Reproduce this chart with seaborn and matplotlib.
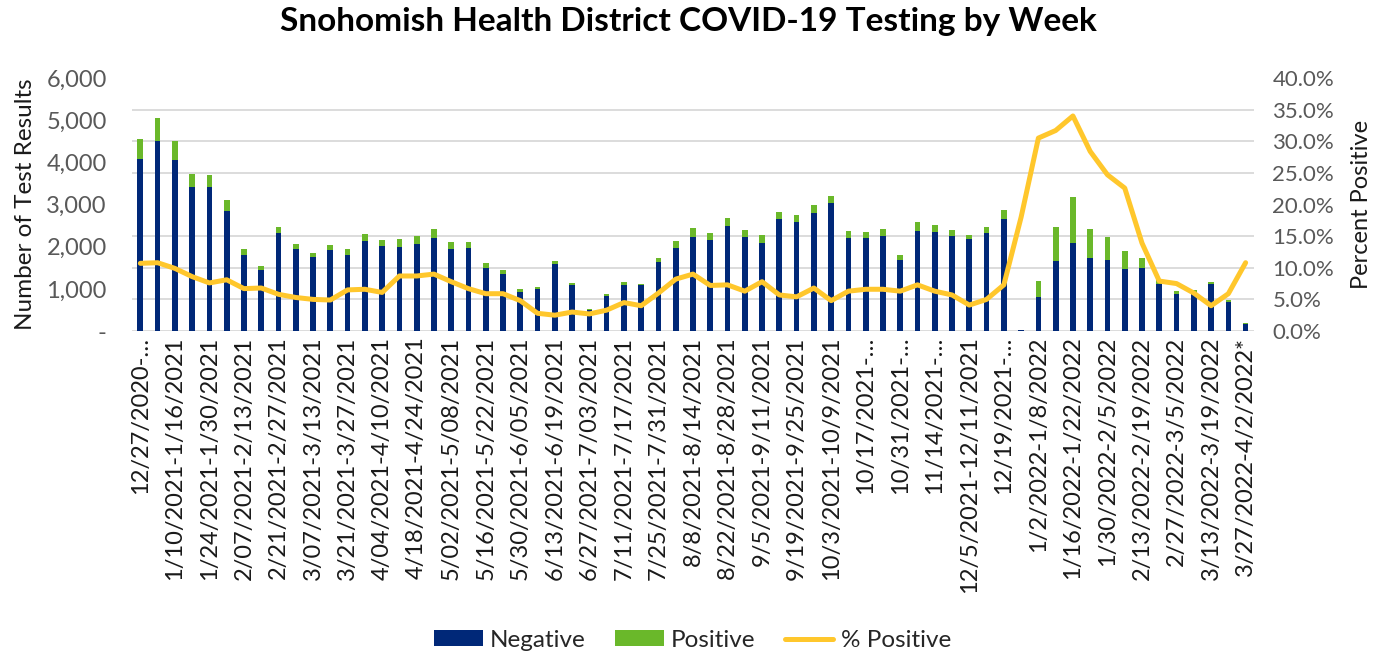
import numpy as np
import pandas as pd
import matplotlib
matplotlib.use("Agg")
import matplotlib.pyplot as plt
import seaborn as sns
from matplotlib.patches import Patch
from matplotlib.lines import Line2D
from matplotlib.ticker import FuncFormatter

# ---------------- data ----------------
weeks = [
    "12/27/2020-1/2/2021", "1/3/2021-1/9/2021", "1/10/2021-1/16/2021", "1/17/2021-1/23/2021",
    "1/24/2021-1/30/2021", "1/31/2021-2/06/2021", "2/07/2021-2/13/2021", "2/14/2021-2/20/2021",
    "2/21/2021-2/27/2021", "2/28/2021-3/06/2021", "3/07/2021-3/13/2021", "3/14/2021-3/20/2021",
    "3/21/2021-3/27/2021", "3/28/2021-4/03/2021", "4/04/2021-4/10/2021", "4/11/2021-4/17/2021",
    "4/18/2021-4/24/2021", "4/25/2021-5/01/2021", "5/02/2021-5/08/2021", "5/09/2021-5/15/2021",
    "5/16/2021-5/22/2021", "5/23/2021-5/29/2021", "5/30/2021-6/05/2021", "6/06/2021-6/12/2021",
    "6/13/2021-6/19/2021", "6/20/2021-6/26/2021", "6/27/2021-7/03/2021", "7/04/2021-7/10/2021",
    "7/11/2021-7/17/2021", "7/18/2021-7/24/2021", "7/25/2021-7/31/2021", "8/1/2021-8/7/2021",
    "8/8/2021-8/14/2021", "8/15/2021-8/21/2021", "8/22/2021-8/28/2021", "8/29/2021-9/4/2021",
    "9/5/2021-9/11/2021", "9/12/2021-9/18/2021", "9/19/2021-9/25/2021", "9/26/2021-10/2/2021",
    "10/3/2021-10/9/2021", "10/10/2021-10/16/2021", "10/17/2021-10/23/2021", "10/24/2021-10/30/2021",
    "10/31/2021-11/6/2021", "11/7/2021-11/13/2021", "11/14/2021-11/20/2021", "11/21/2021-12/4/2021",
    "12/5/2021-12/11/2021", "12/12/2021-12/18/2021", "12/19/2021-12/25/2021", "12/26/2021-1/1/2022",
    "1/2/2022-1/8/2022", "1/9/2022-1/15/2022", "1/16/2022-1/22/2022", "1/23/2022-1/29/2022",
    "1/30/2022-2/5/2022", "2/6/2022-2/12/2022", "2/13/2022-2/19/2022", "2/20/2022-2/26/2022",
    "2/27/2022-3/5/2022", "3/6/2022-3/12/2022", "3/13/2022-3/19/2022", "3/20/2022-3/26/2022",
    "3/27/2022-4/2/2022*",
]

# labels displayed on the axis (every other week, as truncated in the original)
shown_labels = [
    "12/27/2020-…", "1/10/2021-1/16/2021", "1/24/2021-1/30/2021", "2/07/2021-2/13/2021",
    "2/21/2021-2/27/2021", "3/07/2021-3/13/2021", "3/21/2021-3/27/2021", "4/04/2021-4/10/2021",
    "4/18/2021-4/24/2021", "5/02/2021-5/08/2021", "5/16/2021-5/22/2021", "5/30/2021-6/05/2021",
    "6/13/2021-6/19/2021", "6/27/2021-7/03/2021", "7/11/2021-7/17/2021", "7/25/2021-7/31/2021",
    "8/8/2021-8/14/2021", "8/22/2021-8/28/2021", "9/5/2021-9/11/2021", "9/19/2021-9/25/2021",
    "10/3/2021-10/9/2021", "10/17/2021-…", "10/31/2021-…", "11/14/2021-…",
    "12/5/2021-12/11/2021", "12/19/2021-…", "1/2/2022-1/8/2022", "1/16/2022-1/22/2022",
    "1/30/2022-2/5/2022", "2/13/2022-2/19/2022", "2/27/2022-3/5/2022", "3/13/2022-3/19/2022",
    "3/27/2022-4/2/2022*",
]

negative = [
    4071, 4506, 4055, 3415, 3423, 2846, 1802, 1439, 2332, 1944,
    1762, 1921, 1802, 2134, 2023, 1992, 2063, 2198, 1944, 1968,
    1502, 1352, 933, 1004, 1589, 1099, 506, 838, 1099, 1083,
    1628, 1968, 2237, 2158, 2490, 2237, 2095, 2664, 2593, 2790,
    3043, 2213, 2213, 2253, 1684, 2379, 2355, 2253, 2182, 2332,
    2656, 30, 814, 1668, 2095, 1731, 1684, 1463, 1502, 1115,
    885, 917, 1115, 695, 166,
]

positive = [
    480, 537, 443, 316, 284, 261, 142, 110, 142, 119,
    88, 118, 142, 159, 142, 189, 197, 221, 174, 142,
    103, 95, 55, 31, 63, 31, 16, 39, 63, 40,
    111, 166, 198, 174, 197, 158, 181, 158, 158, 206,
    166, 150, 142, 158, 118, 198, 159, 134, 87, 127,
    213, 2, 372, 791, 1090, 688, 553, 434, 229, 100,
    70, 55, 50, 42, 22,
]

pct_positive = [
    10.7, 10.8, 9.9, 8.6, 7.6, 8.1, 6.7, 6.8, 5.8, 5.3,
    5.0, 4.9, 6.5, 6.6, 6.1, 8.7, 8.7, 9.0, 7.8, 6.7,
    5.9, 5.9, 4.8, 2.8, 2.5, 3.0, 2.7, 3.3, 4.5, 4.0,
    6.0, 8.2, 9.0, 7.2, 7.3, 6.3, 7.8, 5.7, 5.4, 6.8,
    4.8, 6.3, 6.6, 6.6, 6.3, 7.3, 6.3, 5.7, 4.1, 5.0,
    7.3, 18.0, 30.5, 31.7, 34.0, 28.4, 24.7, 22.6, 13.9, 7.9,
    7.5, 6.0, 4.0, 5.9, 10.8,
]

# ---------------- styling ----------------
NAVY = "#002878"
GREEN = "#6AB82A"
GOLD = "#FFC72C"
GRID = "#D9D9D9"
TICKGRAY = "#595959"

sns.set_theme(style="white")
plt.rcParams["font.family"] = ["Lato", "DejaVu Sans"]

df = pd.DataFrame({
    "week": weeks,
    "negative": negative,
    "positive": positive,
    "pct": pct_positive,
})
df["total"] = df["negative"] + df["positive"]

fig = plt.figure(figsize=(13.85, 6.56), dpi=100)
ax = fig.add_axes([0.0951, 0.4954, 0.8105, 0.3857])

# stacked bars: total (green) behind, negative (navy) in front
sns.barplot(data=df, x="week", y="total", order=weeks, color=GREEN, width=0.33,
            saturation=1, ax=ax, zorder=2, linewidth=0)
sns.barplot(data=df, x="week", y="negative", order=weeks, color=NAVY, width=0.33,
            saturation=1, ax=ax, zorder=3, linewidth=0)

ax.set_xlim(-0.5, len(weeks) - 0.5)
ax.set_ylim(0, 6000)
ax.set_yticks(np.arange(0, 6001, 1000))
ax.set_yticks(np.arange(0, 6001, 750), minor=True)
ax.yaxis.grid(True, which="minor", color=GRID, linewidth=1.3, zorder=0)
ax.yaxis.grid(False, which="major")
ax.xaxis.grid(False)
ax.set_axisbelow(True)
ax.yaxis.set_major_formatter(FuncFormatter(lambda v, p: "-" if v == 0 else f"{int(v):,}"))
ax.tick_params(axis="y", which="both", length=0, labelsize=17, labelcolor=TICKGRAY, pad=18)

tick_pos = list(range(0, len(weeks), 2))
ax.set_xticks(tick_pos)
ax.set_xticklabels(shown_labels, rotation=90, fontsize=17, color="#1a1a1a")
ax.tick_params(axis="x", length=0, pad=4)
ax.set_xlabel("")
ax.set_ylabel("Number of Test Results", fontsize=17.5, color="#1a1a1a", labelpad=7)
for s in ax.spines.values():
    s.set_visible(False)
ax.axhline(0, color=GRID, linewidth=1.3, zorder=1)

# percent positive on secondary axis
ax2 = ax.twinx()
sns.lineplot(x=np.arange(len(weeks)), y=pct_positive, ax=ax2, color=GOLD,
             linewidth=3.6, zorder=5, legend=False)
ax2.set_xlim(-0.5, len(weeks) - 0.5)
ax2.set_ylim(0, 40)
ax2.set_yticks(np.arange(0, 40.1, 5))
ax2.yaxis.set_major_formatter(FuncFormatter(lambda v, p: f"{v:.1f}%"))
ax2.tick_params(axis="y", length=0, labelsize=16, labelcolor=TICKGRAY, pad=13)
ax2.set_ylabel("Percent Positive", fontsize=17, color="#1a1a1a", labelpad=12, rotation=90)
ax2.grid(False)
for s in ax2.spines.values():
    s.set_visible(False)

fig.suptitle("Snohomish Health District COVID-19 Testing by Week", fontsize=24,
             fontweight="bold", x=0.497, y=0.99, va="top", color="black")

handles = [
    Patch(facecolor=NAVY, edgecolor="none", label="Negative"),
    Patch(facecolor=GREEN, edgecolor="none", label="Positive"),
    Line2D([0], [0], color=GOLD, linewidth=3.6, label="% Positive"),
]
fig.legend(handles=handles, loc="center", bbox_to_anchor=(0.5, 0.024), ncol=3,
           frameon=False, fontsize=17.5, handlelength=2.0, handleheight=0.6,
           columnspacing=1.2, handletextpad=0.3)

fig.savefig("out.png", dpi=100)
